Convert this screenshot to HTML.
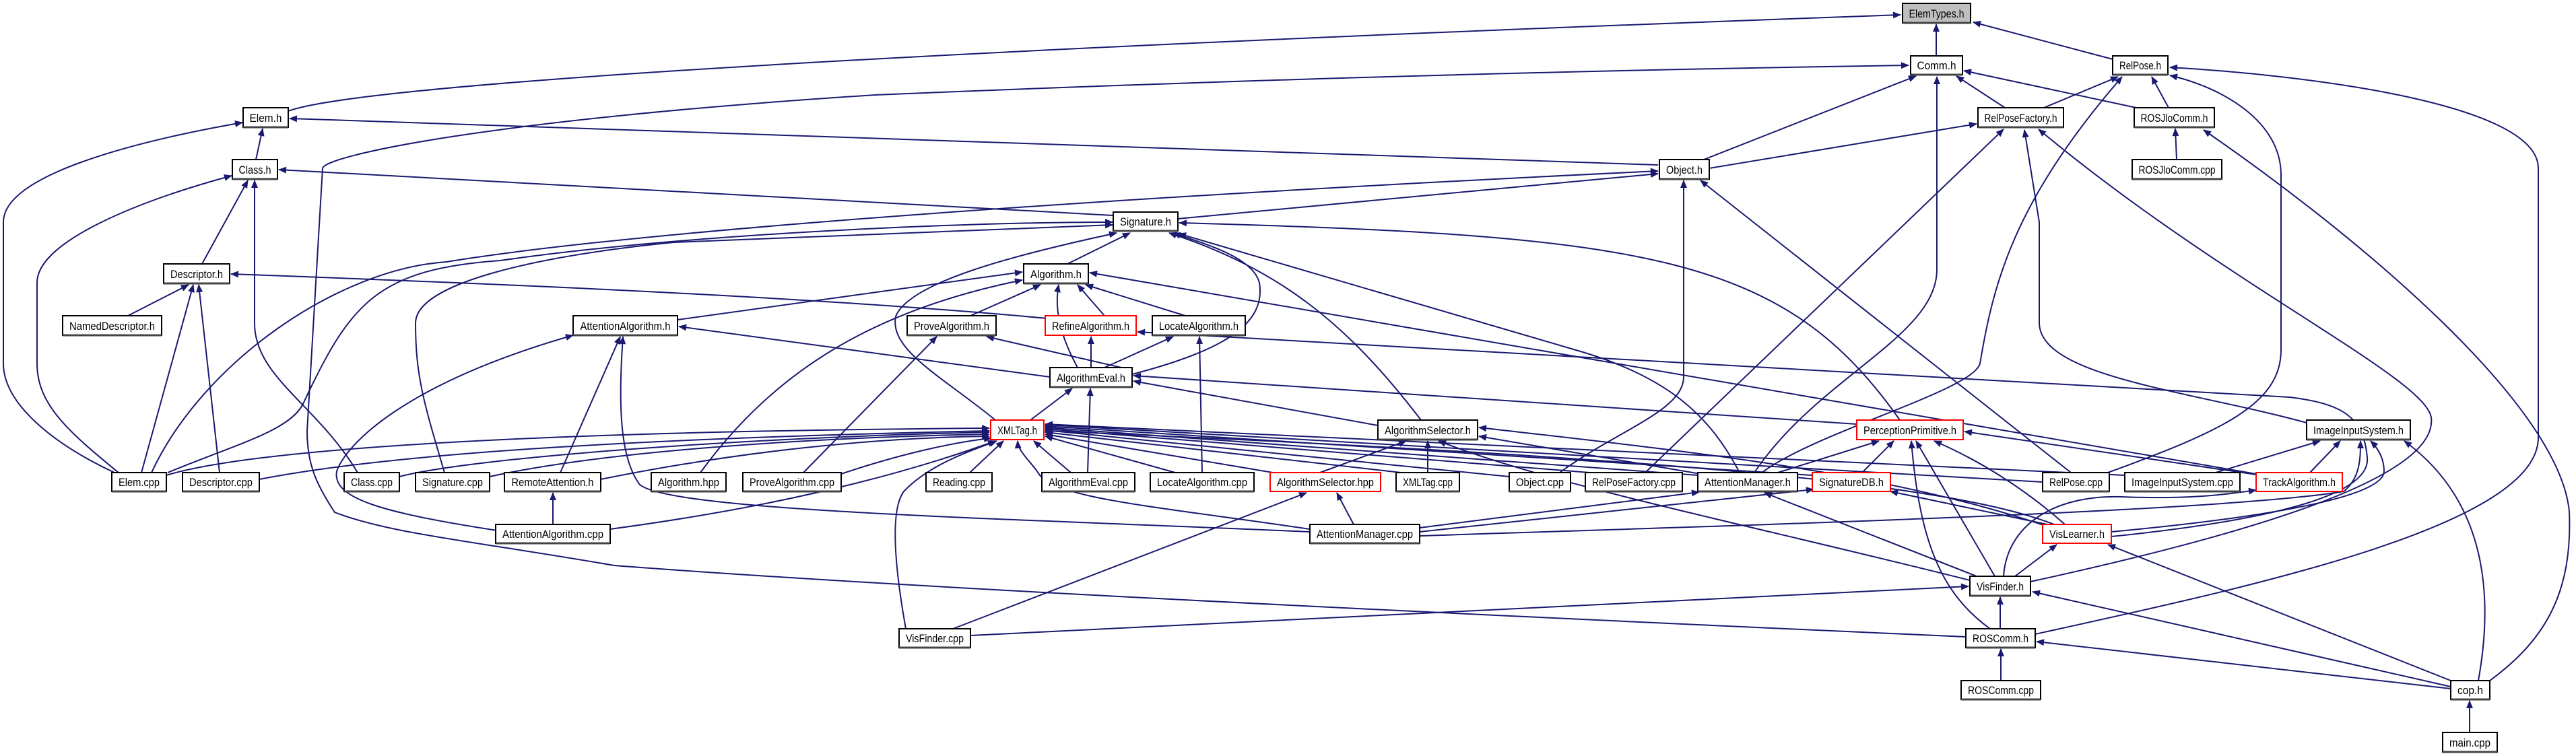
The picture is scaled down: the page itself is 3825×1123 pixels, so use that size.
<!DOCTYPE html>
<html><head><meta charset="utf-8">
<style>
html,body{margin:0;padding:0;background:#fff;}
svg{display:block;}
.e{fill:none;stroke:#191970;stroke-width:2;marker-end:url(#ah);}
.n rect{fill:#fff;stroke:#000;stroke-width:2;}
.n line{stroke:#444;stroke-width:3;}
.r rect{stroke:#ff0000;}
text{font-family:"Liberation Sans",sans-serif;font-size:17px;fill:#000;}
</style></head><body>
<svg width="3825" height="1123" viewBox="0 0 3825 1123" xmlns="http://www.w3.org/2000/svg">
<defs>
<marker id="ah" viewBox="0 0 12 10" refX="11" refY="5" markerWidth="13" markerHeight="10" markerUnits="userSpaceOnUse" orient="auto">
<path d="M0,0 L12,5 L0,10 z" fill="#191970"/>
</marker>
</defs>
<g>
<!-- top -->
<path class="e" d="M2875 83 L2875 36"/>
<path class="e" d="M3137 88 L2930 33"/>
<path class="e" d="M428 165 C520 130 1200 80 2822 22"/>
<path class="e" d="M2530 237 L2845 113"/>
<path class="e" d="M2977 160 L2905 113"/>
<path class="e" d="M3172 160 L2916 105"/>
<path class="e" d="M2605 702 C2700 560 2876 500 2876 400 L2876 114"/>
<path class="e" d="M2919 946 C2000 905 1300 870 912 840 C705 804 580 793 497 761 C470 720 456 690 456 640 L479 250 C481 232 721 178 1300 141 C1800 120 2300 105 2834 97"/>
<path class="e" d="M3035 160 L3145 114"/>
<path class="e" d="M3220 160 L3195 114"/>
<path class="e" d="M2616 702 C2700 640 2930 580 2940 540 C2960 420 2990 300 3151 114"/>
<path class="e" d="M3130 702 C3300 640 3387 600 3387 520 L3387 260 C3387 180 3300 130 3222 112"/>
<path class="e" d="M3022 942 C3350 870 3769 780 3769 650 L3769 250 C3769 150 3400 110 3222 100"/>
<path class="e" d="M3232 237 L3230 191"/>
<path class="e" d="M3697 1011 C3780 950 3820 880 3815 760 C3800 600 3500 350 3272 193"/>
<path class="e" d="M2538 250 L2935 184"/>
<path class="e" d="M2443 702 L2975 192"/>
<path class="e" d="M3425 628 C3250 580 3030 560 3028 480 L3028 330 L3006 193"/>
<path class="e" d="M3015 864 C3400 780 3620 700 3610 620 C3600 560 3300 420 3027 192"/>
<path class="e" d="M225 702 C300 540 500 400 663 389 C900 350 1500 300 2462 254"/>
<path class="e" d="M2462 245 L430 176"/>
<path class="e" d="M1749 325 L2462 258"/>
<path class="e" d="M2316 702 C2400 640 2500 610 2500 560 L2500 268"/>
<path class="e" d="M3075 702 L2525 268"/>
<path class="e" d="M1653 320 L414 252"/>
<path class="e" d="M380 237 L390 191"/>
<path class="e" d="M300 392 L368 268"/>
<path class="e" d="M531 702 C470 600 378 560 378 480 L378 268"/>
<path class="e" d="M190 469 L280 423"/>
<path class="e" d="M210 702 L287 423"/>
<path class="e" d="M326 702 L295 423"/>
<path class="e" d="M1555 473 C1200 440 700 420 343 407"/>
<path class="e" d="M170 702 C80 660 5 600 5 540 L5 330 C5 260 200 210 360 182"/>
<path class="e" d="M176 702 C100 640 55 600 55 540 L55 420 C55 360 200 300 344 261"/>
<path class="e" d="M249 702 C350 660 430 640 450 600 C520 450 560 400 743 387 C1000 350 1400 330 1652 330"/>
<path class="e" d="M660 702 C630 600 617 560 617 480 C617 420 800 380 1000 360 L1652 334"/>
<!-- Signature / Algorithm -->
<path class="e" d="M1585 392 L1678 346"/>
<path class="e" d="M1478 624 C1400 560 1320 520 1330 470 C1350 420 1500 380 1658 346"/>
<path class="e" d="M1681 556 C1820 520 1880 480 1870 420 C1860 380 1780 360 1742 346"/>
<path class="e" d="M2110 624 C2000 480 1900 400 1736 346"/>
<path class="e" d="M2583 702 C2540 620 2480 560 2340 520 L1750 347"/>
<path class="e" d="M2821 624 C2650 380 2450 350 1751 331"/>
<path class="e" d="M1006 475 L1518 404"/>
<path class="e" d="M1441 469 L1545 423"/>
<path class="e" d="M1640 469 L1600 423"/>
<path class="e" d="M1760 469 L1612 423"/>
<path class="e" d="M1600 546 C1575 500 1565 460 1572 423"/>
<path class="e" d="M1040 702 C1150 550 1300 460 1518 416"/>
<path class="e" d="M3350 704 L1618 405"/>
<path class="e" d="M1665 546 L1465 500"/>
<path class="e" d="M1620 546 L1620 500"/>
<path class="e" d="M1640 546 L1742 500"/>
<path class="e" d="M1559 560 L1008 485"/>
<path class="e" d="M1530 624 L1592 577"/>
<path class="e" d="M1615 702 L1619 577"/>
<path class="e" d="M2046 632 L1683 566"/>
<path class="e" d="M2757 630 L1683 558"/>
<path class="e" d="M1193 702 L1391 500"/>
<path class="e" d="M1785 702 L1781 500"/>
<path class="e" d="M3135 797 C3400 770 3520 730 3515 680 C3510 620 3480 600 3400 590 L1689 493"/>
<path class="e" d="M832 702 L921 500"/>
<path class="e" d="M1945 790 C1500 770 1000 760 950 720 C920 680 918 600 925 500"/>
<path class="e" d="M738 788 C564 761 493 740 500 700 C514 660 600 570 851 498"/>
<path class="e" d="M821 779 L821 732"/>
<!-- XMLTag fan -->
<path class="e" d="M247 706 C400 660 900 640 1469 636"/>
<path class="e" d="M385 712 C600 670 1000 650 1469 640"/>
<path class="e" d="M593 708 C700 680 1100 650 1469 642"/>
<path class="e" d="M727 708 C900 670 1200 650 1469 645"/>
<path class="e" d="M892 712 C1100 670 1300 650 1469 648"/>
<path class="e" d="M1249 704 C1350 670 1430 655 1472 651"/>
<path class="e" d="M906 786 C1100 760 1300 720 1478 655"/>
<path class="e" d="M1345 934 C1330 850 1320 760 1342 730 C1380 690 1440 670 1480 655"/>
<path class="e" d="M1440 702 L1490 655"/>
<path class="e" d="M1590 702 L1535 655"/>
<path class="e" d="M1945 786 C1700 750 1560 740 1540 700 C1525 680 1512 670 1511 655"/>
<path class="e" d="M1745 702 L1552 648"/>
<path class="e" d="M1890 702 L1552 645"/>
<path class="e" d="M2080 702 L1552 642"/>
<path class="e" d="M2241 708 L1552 639"/>
<path class="e" d="M2360 702 L1552 637"/>
<path class="e" d="M2521 706 L1552 635"/>
<path class="e" d="M2691 706 L1552 633"/>
<path class="e" d="M3033 716 L1552 631"/>
<path class="e" d="M3155 706 L1552 630"/>
<path class="e" d="M3050 779 C2900 720 2500 680 1552 640"/>
<!-- AlgorithmSelector etc -->
<path class="e" d="M1960 702 L2088 655"/>
<path class="e" d="M2120 702 L2120 655"/>
<path class="e" d="M2525 704 L2196 648"/>
<path class="e" d="M3040 782 C2800 700 2500 670 2196 635"/>
<path class="e" d="M2925 862 C2600 780 2300 720 2136 655"/>
<path class="e" d="M1415 934 L1940 732"/>
<path class="e" d="M2010 779 L1985 732"/>
<path class="e" d="M2108 784 L2523 731"/>
<path class="e" d="M2935 856 L2620 732"/>
<path class="e" d="M2108 790 L2693 727"/>
<path class="e" d="M3040 779 L2807 730"/>
<path class="e" d="M2640 702 L2790 655"/>
<path class="e" d="M2765 702 L2812 655"/>
<path class="e" d="M2962 856 L2845 655"/>
<path class="e" d="M2955 934 C2880 880 2850 800 2838 655"/>
<path class="e" d="M3066 779 C3000 720 2930 680 2872 655"/>
<path class="e" d="M3350 705 L2917 641"/>
<path class="e" d="M3290 702 L3445 655"/>
<path class="e" d="M3430 702 L3475 655"/>
<path class="e" d="M2108 796 C2600 780 3300 760 3480 730 C3505 710 3505 680 3505 655"/>
<path class="e" d="M3135 790 C3350 770 3540 740 3540 700 C3540 680 3530 665 3520 655"/>
<path class="e" d="M3680 1011 C3700 900 3700 750 3570 655"/>
<path class="e" d="M2975 856 C2980 780 3050 735 3150 738 C3250 742 3300 735 3350 728"/>
<path class="e" d="M2992 856 L3054 809"/>
<path class="e" d="M3639 1011 L3130 809"/>
<path class="e" d="M2970 934 L2970 887"/>
<path class="e" d="M3639 1020 L3018 879"/>
<path class="e" d="M1441 944 L2923 871"/>
<path class="e" d="M2971 1011 L2971 964"/>
<path class="e" d="M3639 1023 L3024 953"/>
<path class="e" d="M3667 1088 L3667 1041"/>
</g>
<g>
<g class="n"><rect x="2825" y="5" width="101" height="29" style="fill:#bfbfbf"/><line x1="2825" y1="34" x2="2926" y2="34"/><text x="2875.5" y="26" text-anchor="middle" textLength="82" lengthAdjust="spacingAndGlyphs">ElemTypes.h</text></g>
<g class="n"><rect x="2837" y="83" width="77" height="28"/><line x1="2837" y1="111" x2="2914" y2="111"/><text x="2875.5" y="103" text-anchor="middle" textLength="58" lengthAdjust="spacingAndGlyphs">Comm.h</text></g>
<g class="n"><rect x="3137" y="83" width="82" height="28"/><line x1="3137" y1="111" x2="3219" y2="111"/><text x="3178" y="103" text-anchor="middle" textLength="62" lengthAdjust="spacingAndGlyphs">RelPose.h</text></g>
<g class="n"><rect x="361" y="160" width="67" height="29"/><line x1="361" y1="189" x2="428" y2="189"/><text x="394.5" y="181" text-anchor="middle" textLength="48" lengthAdjust="spacingAndGlyphs">Elem.h</text></g>
<g class="n"><rect x="2937" y="160" width="127" height="29"/><line x1="2937" y1="189" x2="3064" y2="189"/><text x="3000.5" y="181" text-anchor="middle" textLength="108" lengthAdjust="spacingAndGlyphs">RelPoseFactory.h</text></g>
<g class="n"><rect x="3169" y="160" width="119" height="29"/><line x1="3169" y1="189" x2="3288" y2="189"/><text x="3228.5" y="181" text-anchor="middle" textLength="100" lengthAdjust="spacingAndGlyphs">ROSJloComm.h</text></g>
<g class="n"><rect x="345" y="237" width="67" height="29"/><line x1="345" y1="266" x2="412" y2="266"/><text x="378.5" y="258" text-anchor="middle" textLength="48" lengthAdjust="spacingAndGlyphs">Class.h</text></g>
<g class="n"><rect x="2464" y="237" width="74" height="29"/><line x1="2464" y1="266" x2="2538" y2="266"/><text x="2501" y="258" text-anchor="middle" textLength="54" lengthAdjust="spacingAndGlyphs">Object.h</text></g>
<g class="n"><rect x="3166" y="237" width="133" height="29"/><line x1="3166" y1="266" x2="3299" y2="266"/><text x="3232.5" y="258" text-anchor="middle" textLength="114" lengthAdjust="spacingAndGlyphs">ROSJloComm.cpp</text></g>
<g class="n"><rect x="1653" y="315" width="96" height="28"/><line x1="1653" y1="343" x2="1749" y2="343"/><text x="1701" y="335" text-anchor="middle" textLength="76" lengthAdjust="spacingAndGlyphs">Signature.h</text></g>
<g class="n"><rect x="243" y="392" width="98" height="29"/><line x1="243" y1="421" x2="341" y2="421"/><text x="292" y="413" text-anchor="middle" textLength="78" lengthAdjust="spacingAndGlyphs">Descriptor.h</text></g>
<g class="n"><rect x="1520" y="392" width="96" height="29"/><line x1="1520" y1="421" x2="1616" y2="421"/><text x="1568" y="413" text-anchor="middle" textLength="76" lengthAdjust="spacingAndGlyphs">Algorithm.h</text></g>
<g class="n"><rect x="93" y="469" width="147" height="29"/><line x1="93" y1="498" x2="240" y2="498"/><text x="166.5" y="490" text-anchor="middle" textLength="127" lengthAdjust="spacingAndGlyphs">NamedDescriptor.h</text></g>
<g class="n"><rect x="851" y="469" width="155" height="29"/><line x1="851" y1="498" x2="1006" y2="498"/><text x="928.5" y="490" text-anchor="middle" textLength="134" lengthAdjust="spacingAndGlyphs">AttentionAlgorithm.h</text></g>
<g class="n"><rect x="1347" y="469" width="132" height="29"/><line x1="1347" y1="498" x2="1479" y2="498"/><text x="1413" y="490" text-anchor="middle" textLength="112" lengthAdjust="spacingAndGlyphs">ProveAlgorithm.h</text></g>
<g class="n r"><rect x="1552" y="469" width="135" height="29"/><text x="1619.5" y="490" text-anchor="middle" textLength="115" lengthAdjust="spacingAndGlyphs">RefineAlgorithm.h</text></g>
<g class="n"><rect x="1711" y="469" width="138" height="29"/><line x1="1711" y1="498" x2="1849" y2="498"/><text x="1780" y="490" text-anchor="middle" textLength="118" lengthAdjust="spacingAndGlyphs">LocateAlgorithm.h</text></g>
<g class="n"><rect x="1559" y="546" width="122" height="29"/><line x1="1559" y1="575" x2="1681" y2="575"/><text x="1620" y="567" text-anchor="middle" textLength="102" lengthAdjust="spacingAndGlyphs">AlgorithmEval.h</text></g>
<g class="n r"><rect x="1471" y="624" width="79" height="29"/><text x="1510.5" y="645" text-anchor="middle" textLength="59" lengthAdjust="spacingAndGlyphs">XMLTag.h</text></g>
<g class="n"><rect x="2046" y="624" width="148" height="29"/><line x1="2046" y1="653" x2="2194" y2="653"/><text x="2120" y="645" text-anchor="middle" textLength="128" lengthAdjust="spacingAndGlyphs">AlgorithmSelector.h</text></g>
<g class="n r"><rect x="2757" y="624" width="158" height="29"/><text x="2836" y="645" text-anchor="middle" textLength="138" lengthAdjust="spacingAndGlyphs">PerceptionPrimitive.h</text></g>
<g class="n"><rect x="3425" y="624" width="154" height="29"/><line x1="3425" y1="653" x2="3579" y2="653"/><text x="3502" y="645" text-anchor="middle" textLength="134" lengthAdjust="spacingAndGlyphs">ImageInputSystem.h</text></g>
<g class="n"><rect x="166" y="702" width="81" height="28"/><line x1="166" y1="730" x2="247" y2="730"/><text x="206.5" y="722" text-anchor="middle" textLength="61" lengthAdjust="spacingAndGlyphs">Elem.cpp</text></g>
<g class="n"><rect x="271" y="702" width="114" height="28"/><line x1="271" y1="730" x2="385" y2="730"/><text x="328" y="722" text-anchor="middle" textLength="94" lengthAdjust="spacingAndGlyphs">Descriptor.cpp</text></g>
<g class="n"><rect x="511" y="702" width="82" height="28"/><line x1="511" y1="730" x2="593" y2="730"/><text x="552" y="722" text-anchor="middle" textLength="62" lengthAdjust="spacingAndGlyphs">Class.cpp</text></g>
<g class="n"><rect x="617" y="702" width="110" height="28"/><line x1="617" y1="730" x2="727" y2="730"/><text x="672" y="722" text-anchor="middle" textLength="90" lengthAdjust="spacingAndGlyphs">Signature.cpp</text></g>
<g class="n"><rect x="749" y="702" width="143" height="28"/><line x1="749" y1="730" x2="892" y2="730"/><text x="820.5" y="722" text-anchor="middle" textLength="122" lengthAdjust="spacingAndGlyphs">RemoteAttention.h</text></g>
<g class="n"><rect x="967" y="702" width="111" height="28"/><line x1="967" y1="730" x2="1078" y2="730"/><text x="1022.5" y="722" text-anchor="middle" textLength="91" lengthAdjust="spacingAndGlyphs">Algorithm.hpp</text></g>
<g class="n"><rect x="1103" y="702" width="146" height="28"/><line x1="1103" y1="730" x2="1249" y2="730"/><text x="1176" y="722" text-anchor="middle" textLength="126" lengthAdjust="spacingAndGlyphs">ProveAlgorithm.cpp</text></g>
<g class="n"><rect x="1375" y="702" width="98" height="28"/><line x1="1375" y1="730" x2="1473" y2="730"/><text x="1424" y="722" text-anchor="middle" textLength="78" lengthAdjust="spacingAndGlyphs">Reading.cpp</text></g>
<g class="n"><rect x="1547" y="702" width="138" height="28"/><line x1="1547" y1="730" x2="1685" y2="730"/><text x="1616" y="722" text-anchor="middle" textLength="118" lengthAdjust="spacingAndGlyphs">AlgorithmEval.cpp</text></g>
<g class="n"><rect x="1708" y="702" width="154" height="28"/><line x1="1708" y1="730" x2="1862" y2="730"/><text x="1785" y="722" text-anchor="middle" textLength="134" lengthAdjust="spacingAndGlyphs">LocateAlgorithm.cpp</text></g>
<g class="n r"><rect x="1886" y="702" width="164" height="28"/><text x="1968" y="722" text-anchor="middle" textLength="144" lengthAdjust="spacingAndGlyphs">AlgorithmSelector.hpp</text></g>
<g class="n"><rect x="2073" y="702" width="94" height="28"/><line x1="2073" y1="730" x2="2167" y2="730"/><text x="2120" y="722" text-anchor="middle" textLength="74" lengthAdjust="spacingAndGlyphs">XMLTag.cpp</text></g>
<g class="n"><rect x="2241" y="702" width="91" height="28"/><line x1="2241" y1="730" x2="2332" y2="730"/><text x="2286.5" y="722" text-anchor="middle" textLength="71" lengthAdjust="spacingAndGlyphs">Object.cpp</text></g>
<g class="n"><rect x="2354" y="702" width="144" height="28"/><line x1="2354" y1="730" x2="2498" y2="730"/><text x="2426" y="722" text-anchor="middle" textLength="124" lengthAdjust="spacingAndGlyphs">RelPoseFactory.cpp</text></g>
<g class="n"><rect x="2521" y="702" width="148" height="28"/><line x1="2521" y1="730" x2="2669" y2="730"/><text x="2595" y="722" text-anchor="middle" textLength="128" lengthAdjust="spacingAndGlyphs">AttentionManager.h</text></g>
<g class="n r"><rect x="2691" y="702" width="116" height="28"/><text x="2749" y="722" text-anchor="middle" textLength="96" lengthAdjust="spacingAndGlyphs">SignatureDB.h</text></g>
<g class="n"><rect x="3033" y="702" width="99" height="28"/><line x1="3033" y1="730" x2="3132" y2="730"/><text x="3082.5" y="722" text-anchor="middle" textLength="79" lengthAdjust="spacingAndGlyphs">RelPose.cpp</text></g>
<g class="n"><rect x="3155" y="702" width="171" height="28"/><line x1="3155" y1="730" x2="3326" y2="730"/><text x="3240.5" y="722" text-anchor="middle" textLength="151" lengthAdjust="spacingAndGlyphs">ImageInputSystem.cpp</text></g>
<g class="n r"><rect x="3350" y="702" width="128" height="28"/><text x="3414" y="722" text-anchor="middle" textLength="108" lengthAdjust="spacingAndGlyphs">TrackAlgorithm.h</text></g>
<g class="n"><rect x="736" y="779" width="170" height="28"/><line x1="736" y1="807" x2="906" y2="807"/><text x="821" y="799" text-anchor="middle" textLength="150" lengthAdjust="spacingAndGlyphs">AttentionAlgorithm.cpp</text></g>
<g class="n"><rect x="1945" y="779" width="163" height="28"/><line x1="1945" y1="807" x2="2108" y2="807"/><text x="2026.5" y="799" text-anchor="middle" textLength="143" lengthAdjust="spacingAndGlyphs">AttentionManager.cpp</text></g>
<g class="n r"><rect x="3033" y="779" width="102" height="28"/><text x="3084" y="799" text-anchor="middle" textLength="82" lengthAdjust="spacingAndGlyphs">VisLearner.h</text></g>
<g class="n"><rect x="2925" y="856" width="90" height="29"/><line x1="2925" y1="885" x2="3015" y2="885"/><text x="2970" y="877" text-anchor="middle" textLength="70" lengthAdjust="spacingAndGlyphs">VisFinder.h</text></g>
<g class="n"><rect x="1335" y="934" width="106" height="28"/><line x1="1335" y1="962" x2="1441" y2="962"/><text x="1388" y="954" text-anchor="middle" textLength="86" lengthAdjust="spacingAndGlyphs">VisFinder.cpp</text></g>
<g class="n"><rect x="2919" y="934" width="103" height="28"/><line x1="2919" y1="962" x2="3022" y2="962"/><text x="2970.5" y="954" text-anchor="middle" textLength="83" lengthAdjust="spacingAndGlyphs">ROSComm.h</text></g>
<g class="n"><rect x="2912" y="1011" width="118" height="28"/><line x1="2912" y1="1039" x2="3030" y2="1039"/><text x="2971" y="1031" text-anchor="middle" textLength="98" lengthAdjust="spacingAndGlyphs">ROSComm.cpp</text></g>
<g class="n"><rect x="3639" y="1011" width="58" height="28"/><line x1="3639" y1="1039" x2="3697" y2="1039"/><text x="3668" y="1031" text-anchor="middle" textLength="38" lengthAdjust="spacingAndGlyphs">cop.h</text></g>
<g class="n"><rect x="3627" y="1088" width="81" height="29"/><line x1="3627" y1="1117" x2="3708" y2="1117"/><text x="3667.5" y="1109" text-anchor="middle" textLength="61" lengthAdjust="spacingAndGlyphs">main.cpp</text></g>
</g>
</svg>
</body></html>
